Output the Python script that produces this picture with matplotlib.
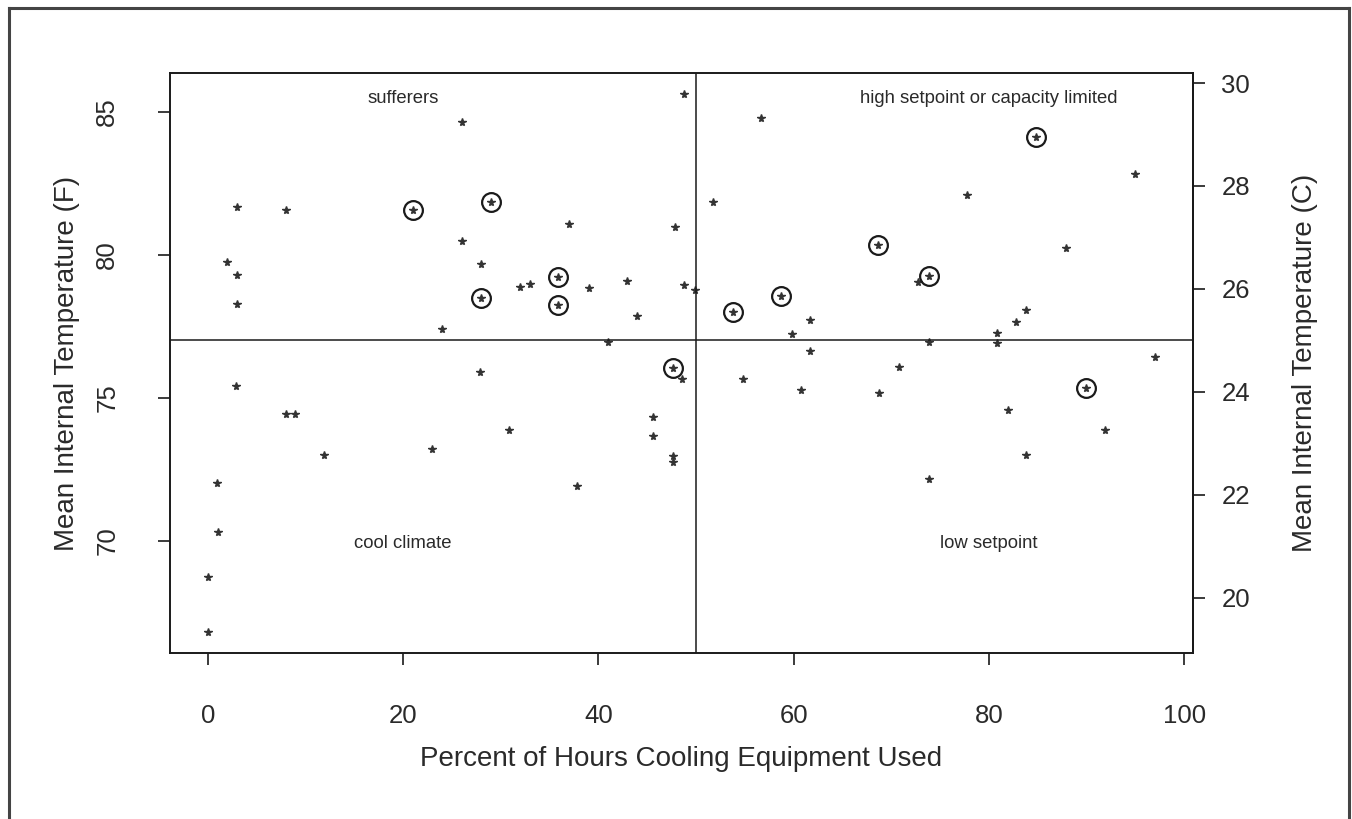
import matplotlib
matplotlib.use("Agg")
import matplotlib.pyplot as plt
from matplotlib.lines import Line2D
import numpy as np

plt.rcParams['font.family'] = ['Liberation Sans', 'DejaVu Sans']

# ---- data (percent of hours cooling used, mean internal temperature F, circled flag)
pct_used = [2, 3, 3, 3, 8, 21, 26, 26, 29, 28, 28, 24, 37, 47.8, 35.9, 35.9, 32, 33, 39,
            42.9, 43.9, 48.8, 49.9, 41, 48.8,
            51.7, 56.6, 53.8, 58.7, 59.8, 61.7, 68.6, 72.7, 73.8, 73.8, 77.7, 80.8, 80.8,
            82.8, 83.8, 84.8, 87.9, 94.9, 97,
            61.7, 54.75, 60.7, 68.7, 70.8, 73.8, 81.9, 83.8, 89.9, 91.9,
            47.6, 48.6, 27.9, 2.9, 8.0, 8.9, 30.8, 45.6, 45.6, 11.9, 22.9, 47.6, 47.6,
            37.8, 0.9, 1.0, 0, 0]
temp_f = [79.75, 81.66, 79.27, 78.28, 81.56, 81.56, 84.63, 80.46, 81.84, 79.66, 78.47, 77.39,
          81.07, 80.98, 79.23, 78.25, 78.87, 78.97, 78.85, 79.09, 77.84, 78.95, 78.77, 76.95, 85.6,
          81.85, 84.77, 77.99, 78.57, 77.23, 77.72, 80.32, 79.03, 79.24, 76.95, 82.08, 77.27,
          76.92, 77.63, 78.07, 84.11, 80.24, 82.81, 76.43,
          76.64, 75.65, 75.26, 75.17, 76.06, 72.16, 74.58, 72.98, 75.32, 73.86,
          76.02, 75.65, 75.88, 75.39, 74.44, 74.44, 73.86, 74.33, 73.65, 73.0, 73.2, 72.96,
          72.76, 71.9, 72.0, 70.31, 68.74, 66.82]
circled = [0, 0, 0, 0, 0, 1, 0, 0, 1, 0, 1, 0, 0, 0, 1, 1, 0, 0, 0, 0, 0, 0, 0, 0, 0,
           0, 0, 1, 1, 0, 0, 1, 0, 1, 0, 0, 0, 0, 0, 0, 1, 0, 0, 0,
           0, 0, 0, 0, 0, 0, 0, 0, 1, 0,
           1, 0, 0, 0, 0, 0, 0, 0, 0, 0, 0, 0, 0, 0, 0, 0, 0, 0]

pct_split = 50
temp_split_f = 77

x_ticks = [0, 20, 40, 60, 80, 100]
yf_ticks = [70, 75, 80, 85]
yc_ticks = [20, 22, 24, 26, 28, 30]

quad_labels = ["sufferers", "high setpoint or capacity limited", "cool climate", "low setpoint"]
quad_label_x = [20, 80, 20, 80]
quad_label_y = [85.45, 85.45, 69.9, 69.9]

x = np.array(pct_used)
y = np.array(temp_f)
c = np.array(circled, dtype=bool)

fig = plt.figure(figsize=(13.52, 8.19), dpi=100)
ax = fig.add_axes([170/1352, 1 - 653/819, (1193-170)/1352, (653-73)/819])

ink = '#1a1a1a'
txt = '#2a2a2a'
ax.plot(x, y, linestyle='none', marker='*', markersize=5.8, color='#333333', mec='#333333')
ax.plot(x[c], y[c], linestyle='none', marker='o', markersize=13.5, mfc='none', mec=ink, mew=1.6)

ax.margins(x=0.04, y=0.04)
ax.axvline(pct_split, color=ink, lw=1.1)
ax.axhline(temp_split_f, color=ink, lw=1.1)

for s, tx, ty in zip(quad_labels, quad_label_x, quad_label_y):
    ax.text(tx, ty, s, ha='center', va='center', fontsize=13.3, color=txt)

ax.set_xticks(x_ticks)
ax.set_yticks(yf_ticks)
for sp in ax.spines.values():
    sp.set_linewidth(1.4)
    sp.set_color(ink)
ax.tick_params(axis='both', direction='out', length=8.5, width=1.2, colors=ink,
               labelsize=18.5, labelcolor=txt)
ax.tick_params(axis='x', pad=28)
ax.tick_params(axis='y', pad=28)
for lab in ax.get_yticklabels():
    lab.set_rotation(90)
    lab.set_va('center')

ax.set_xlabel("Percent of Hours Cooling Equipment Used", fontsize=20, color=txt, labelpad=13)
ax.set_ylabel("Mean Internal Temperature (F)", fontsize=20, color=txt, labelpad=11)

sec = ax.secondary_yaxis('right', functions=(lambda f: (f - 32) * 5 / 9, lambda cc: cc * 9 / 5 + 32))
sec.set_yticks(yc_ticks)
sec.tick_params(direction='out', length=8.5, width=1.2, colors=ink, labelsize=18.5,
                labelcolor=txt, pad=12)
sec.spines['right'].set_linewidth(1.4)
sec.set_ylabel("Mean Internal Temperature (C)", fontsize=20, color=txt, labelpad=30)

# outer frame of the figure (left, top, right)
fx0, fx1, fy1 = 9/1352, 1349/1352, 1 - 8/819
for xs, ys in [([fx0, fx0], [0, fy1]), ([fx0, fx1], [fy1, fy1]), ([fx1, fx1], [fy1, 0])]:
    fig.add_artist(Line2D(xs, ys, transform=fig.transFigure, color='#444444', lw=2.2))

fig.savefig("out.png", dpi=100)
